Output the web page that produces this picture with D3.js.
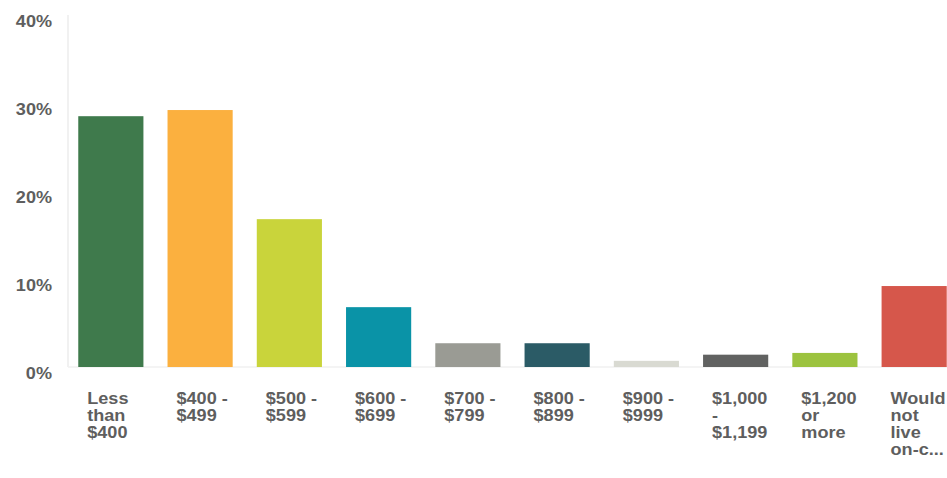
<!DOCTYPE html>
<html><head><meta charset="utf-8">
<script src="https://cdn.jsdelivr.net/npm/d3@7"></script>
<style>html,body{margin:0;padding:0;background:#fff;}svg{display:block;}</style>
</head><body>
<svg id="chart" width="947" height="478"></svg>
<script>
const categories = [
  ["Less", "than", "$400"],
  ["$400 -", "$499"],
  ["$500 -", "$599"],
  ["$600 -", "$699"],
  ["$700 -", "$799"],
  ["$800 -", "$899"],
  ["$900 -", "$999"],
  ["$1,000", "-", "$1,199"],
  ["$1,200", "or", "more"],
  ["Would", "not", "live", "on-c..."]
];
const values = [28.5, 29.2, 16.8, 6.8, 2.7, 2.7, 0.7, 1.4, 1.6, 9.2];
const colors = ["#3f7a4c", "#fbb03f", "#c9d43b", "#0a93a7", "#9a9b94", "#2b5b66", "#d9dad2", "#616261", "#9cc33f", "#d6574b"];
const yTicks = [0, 10, 20, 30, 40];

const svg = d3.select("#chart");
const x = d3.scaleBand().domain(d3.range(values.length)).range([68, 957]).paddingInner(0.27).paddingOuter(0.115);
const y = d3.scaleLinear().domain([0, 40]).range([367, 15]);
const font = "'Liberation Sans', Arial, sans-serif";
const textColor = "#5e5e5e";
const fs = 16, sx = 1.13;

// axis lines
svg.append("line").attr("x1", 68).attr("x2", 68).attr("y1", y(40)).attr("y2", y(0))
  .attr("stroke", "#ececec").attr("stroke-width", 1.5);
svg.append("line").attr("x1", 68).attr("x2", 947).attr("y1", y(0)).attr("y2", y(0))
  .attr("stroke", "#f0f0f0").attr("stroke-width", 1.5);

// y axis labels
const yAxis = d3.axisLeft(y).tickValues(yTicks).tickFormat(d => d + "%").tickSize(0).tickPadding(0);
const ga = svg.append("g").attr("transform", "translate(52,0)").call(yAxis);
ga.select(".domain").remove();
ga.selectAll("text").attr("font-family", font).attr("font-size", fs).attr("font-weight", "bold")
  .attr("fill", textColor).attr("x", 0).attr("y", 6).attr("dy", "0.35em").attr("dx", 0)
  .attr("transform", `scale(${sx},1)`);

// bars
svg.selectAll("rect.bar").data(values).join("rect").attr("class", "bar")
  .attr("x", (d, i) => x(i)).attr("width", x.bandwidth())
  .attr("y", d => y(d)).attr("height", d => y(0) - y(d))
  .attr("fill", (d, i) => colors[i]);

// x labels
const lab = svg.selectAll("text.xl").data(categories).join("text").attr("class", "xl")
  .attr("transform", (d, i) => `translate(${x(i) + 9},404) scale(${sx},1)`)
  .attr("x", 0).attr("y", 0)
  .attr("font-family", font).attr("font-size", fs).attr("font-weight", "bold")
  .attr("fill", textColor);
lab.selectAll("tspan").data(d => d).join("tspan")
  .attr("x", 0)
  .attr("dy", (d, i) => i === 0 ? 0 : 17)
  .text(d => d);
</script>
</body></html>
